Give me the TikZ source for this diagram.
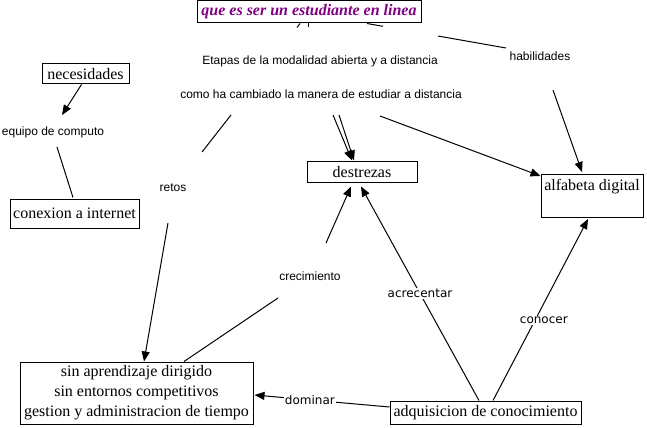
\documentclass[tikz,border=0pt]{standalone}
\usepackage{fontspec}
\setmainfont{Liberation Serif}
\newfontfamily\arialfont{Liberation Sans}
\newfontfamily\dejavufont{DejaVu Sans}
\usetikzlibrary{arrows.meta}
\definecolor{titlepurple}{RGB}{128,0,128}
\begin{document}
\begin{tikzpicture}[x=0.75pt,y=-0.75pt,line width=0.75pt,
  box/.style={draw,inner sep=0pt,font=\fontsize{12}{15}\selectfont},
  lbl/.style={inner sep=0pt,text height=6.5pt,text depth=1.5pt,font=\arialfont\fontsize{9}{11}\selectfont},
  edgelbl/.style={fill=white,inner sep=1pt,font=\dejavufont\fontsize{9}{11}\selectfont},
  arr/.style={-{Triangle[length=7.5pt,width=6pt]}}]
\useasboundingbox (0,0) rectangle (647,428);
\node[box,minimum width=168pt,minimum height=16.5pt,text=titlepurple,font=\bfseries\itshape\fontsize{12}{15}\selectfont] (title) at (309,12) {que es ser un estudiante en linea};
\node[lbl] (etapas) at (320,61) {Etapas de la modalidad abierta y a distancia};
\node[lbl] (habil) at (540,57) {habilidades};
\node[box,minimum width=65.25pt,minimum height=15pt] (nec) at (85.5,74) {necesidades};
\node[lbl] (como) at (321,95) {como ha cambiado la manera de estudiar a distancia};
\node[lbl] (equipo) at (53,132) {equipo de computo};
\node[box,minimum width=82.5pt,minimum height=15.75pt] (dest) at (362,172.5) {destrezas};
\node[box,minimum width=76.5pt,text height=12pt,text depth=20.25pt,anchor=north] (alf) at (592,174) {alfabeta digital};
\node[lbl] (retos) at (173,188) {retos};
\node[box,minimum width=96.75pt,minimum height=21.75pt] (conex) at (74.5,213.5) {conexion a internet};
\node[lbl] (crec) at (310,277) {crecimiento};
\node[box,minimum width=174.75pt,minimum height=46.5pt,align=center] (sin) at (136.5,393) {sin aprendizaje dirigido\\sin entornos competitivos\\gestion y administracion de tiempo};
\node[box,minimum width=143.25pt,minimum height=17.25pt] (adq) at (485.5,412.5) {adquisicion de conocimiento};

\draw ([shift={(-9,0)}]title.south) -- +(-3,4);
\draw ([shift={(-1,0)}]title.south) -- +(0,4);
\path ([shift={(58,0)}]title.south) coordinate (t1) -- coordinate[pos=0.115] (g1) coordinate[pos=0.51] (g2) ([shift={(-34,-9)}]habil.center) coordinate (t2);
\draw (t1) -- (g1) (g2) -- (t2);
\draw[arr] ([shift={(-4,0)}]nec.south) -- ([shift={(9,-17)}]equipo.center);
\draw ([shift={(4,15)}]equipo.center) -- ([shift={(-1.5,-1)}]conex.north);
\draw ([shift={(-90,20)}]como.center) -- ([shift={(29,-36)}]retos.center);
\draw[arr] ([shift={(-5,35)}]retos.center) -- ([shift={(7.5,0)}]sin.north);
\draw[arr] ([shift={(12,20)}]como.center) -- ([shift={(-10,-1)}]dest.north);
\draw[arr] ([shift={(18,20)}]como.center) -- ([shift={(-8,-1)}]dest.north);
\draw[arr] ([shift={(59,21)}]como.center) -- ([shift={(0,2)}]alf.north west);
\draw[arr] ([shift={(13,33)}]habil.center) -- ([shift={(-10,-2)}]alf.north);
\draw[arr] ([shift={(16,-34)}]crec.center) -- ([shift={(-11,3)}]dest.south);
\draw ([shift={(47.5,0)}]sin.north) -- ([shift={(-32,21)}]crec.center);
\draw[arr] ([shift={(-6.5,0)}]adq.north) -- node[edgelbl] {acrecentar} ([shift={(-1,3)}]dest.south);
\draw[arr] ([shift={(7.5,0)}]adq.north) -- node[edgelbl,pos=0.44,xshift=6.75pt] {conocer} ([shift={(-4,1)}]alf.south);
\draw[arr] ([shift={(0,-5.5)}]adq.west) -- node[edgelbl,pos=0.59] {dominar} ([shift={(1,2)}]sin.east);
\end{tikzpicture}
\end{document}
